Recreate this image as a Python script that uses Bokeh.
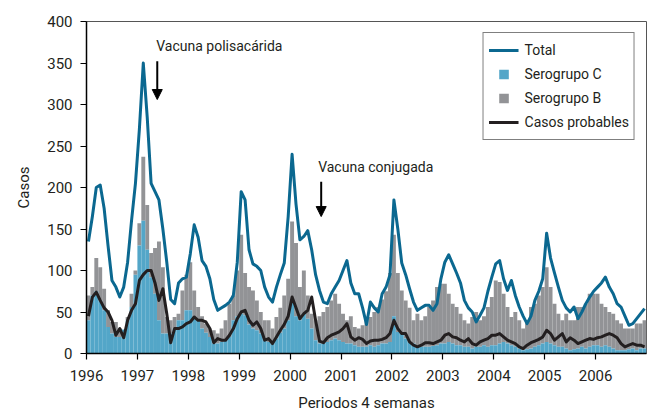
from bokeh.plotting import figure
from bokeh.models import (Range1d, FixedTicker, Legend, LegendItem, Arrow, NormalHead,
                          Label, ColumnDataSource)
from bokeh.embed import file_html
from bokeh.resources import INLINE

# ---- data (13 four-week periods per year, 1996-2006) ----
years = list(range(1996, 2007))
periods_per_year = 13

total = [
    135, 165, 200, 203, 175, 130, 88, 80, 68, 80, 110, 160, 205,      # 1996
    270, 350, 285, 205, 195, 185, 150, 110, 65, 60, 85, 90, 92,       # 1997
    120, 155, 140, 112, 105, 90, 65, 52, 55, 58, 62, 70, 110,         # 1998
    195, 185, 125, 108, 105, 100, 80, 68, 62, 80, 95, 109, 165,       # 1999
    240, 180, 137, 141, 148, 125, 95, 76, 62, 60, 72, 80, 88,         # 2000
    100, 112, 85, 72, 72, 55, 35, 62, 55, 50, 72, 80, 95,            # 2001
    185, 150, 109, 95, 78, 62, 52, 55, 58, 58, 52, 60, 90,           # 2002
    110, 119, 108, 97, 85, 64, 55, 50, 38, 46, 55, 75, 92,           # 2003
    108, 112, 90, 76, 88, 70, 56, 45, 36, 45, 64, 75, 90,            # 2004
    145, 115, 97, 80, 64, 55, 50, 56, 42, 50, 60, 68, 75,            # 2005
    80, 85, 92, 80, 72, 60, 56, 45, 34, 36, 42, 48, 54,              # 2006
]

probables = [
    45, 68, 74, 64, 55, 50, 40, 22, 30, 19, 40, 52, 60,
    88, 95, 100, 100, 85, 64, 78, 48, 13, 30, 30, 32, 36,
    38, 44, 40, 40, 38, 30, 13, 18, 16, 16, 22, 30, 42,
    50, 52, 40, 34, 38, 30, 16, 18, 12, 20, 28, 35, 45,
    68, 55, 42, 48, 52, 68, 40, 15, 13, 19, 22, 24, 26,
    30, 36, 20, 16, 19, 17, 12, 15, 16, 16, 17, 19, 24,
    40, 30, 24, 24, 14, 10, 8, 10, 13, 13, 12, 14, 16,
    22, 24, 20, 19, 16, 14, 18, 12, 10, 14, 16, 18, 22,
    22, 24, 20, 16, 14, 12, 8, 6, 10, 13, 15, 17, 20,
    28, 24, 16, 20, 24, 14, 19, 16, 12, 14, 16, 18, 17,
    19, 20, 22, 24, 22, 19, 12, 8, 10, 12, 10, 10, 8,
]

serogrupo_c = [
    40, 70, 75, 64, 52, 32, 24, 20, 20, 29, 40, 56, 95,
    130, 160, 125, 92, 72, 40, 24, 24, 24, 30, 40, 40, 52,
    52, 44, 40, 30, 25, 20, 12, 12, 14, 16, 20, 40, 45,
    48, 46, 35, 30, 28, 24, 16, 14, 14, 18, 25, 30, 40,
    62, 45, 40, 48, 42, 30, 16, 12, 12, 14, 16, 18, 16,
    14, 12, 12, 10, 8, 8, 8, 10, 8, 10, 12, 12, 14,
    45, 26, 24, 18, 14, 12, 10, 8, 8, 8, 9, 10, 12,
    12, 14, 12, 10, 10, 8, 8, 6, 8, 8, 10, 8, 10,
    10, 12, 14, 12, 10, 8, 6, 4, 5, 6, 8, 10, 12,
    14, 12, 10, 8, 8, 6, 4, 5, 6, 8, 6, 8, 10,
    10, 8, 10, 8, 6, 4, 4, 4, 5, 6, 4, 6, 6,
]

# top of the stacked bar (Serogrupo C + Serogrupo B)
c_plus_b = [
    70, 80, 115, 104, 78, 52, 38, 38, 30, 22, 44, 72, 100,
    157, 237, 179, 121, 127, 135, 104, 44, 40, 44, 48, 76, 95,
    110, 76, 56, 45, 36, 30, 28, 24, 30, 40, 60, 70, 100,
    143, 97, 80, 76, 64, 50, 40, 40, 30, 44, 55, 70, 90,
    159, 133, 80, 100, 70, 48, 40, 45, 50, 56, 64, 72, 60,
    48, 40, 45, 32, 30, 34, 40, 44, 50, 56, 65, 75, 97,
    143, 97, 76, 64, 55, 40, 48, 40, 45, 56, 64, 80, 84,
    84, 72, 60, 56, 48, 40, 36, 44, 50, 40, 45, 56, 68,
    88, 86, 72, 56, 44, 50, 40, 30, 40, 56, 60, 70, 80,
    104, 80, 60, 48, 40, 48, 40, 40, 56, 56, 60, 72, 72,
    72, 60, 56, 50, 48, 40, 36, 30, 30, 30, 36, 36, 40,
]
serogrupo_b = [max(t - c, 0) for t, c in zip(c_plus_b, serogrupo_c)]

year_ticks = years
y_ticks = list(range(0, 401, 50))

# ---- derived positions ----
n = len(total)
xs = [years[0] + (i + 0.5) / periods_per_year for i in range(n)]
bar_w = 1.0 / periods_per_year

src = ColumnDataSource(dict(
    x=xs, c=serogrupo_c, b=serogrupo_b, total=total, prob=probables,
    b_top=[c + b for c, b in zip(serogrupo_c, serogrupo_b)],
))

FONT = "Roboto"
C_TOTAL = "#0b6890"
C_C = "#53a6c8"
C_B = "#929396"
C_PROB = "#231f20"

p = figure(width=649, height=414, output_backend="svg", toolbar_location=None,
           x_range=Range1d(1996, 2007), y_range=Range1d(0, 400),
           min_border_left=86, min_border_right=3, min_border_top=21, min_border_bottom=61)

p.xgrid.visible = False
p.ygrid.visible = False
p.outline_line_color = "#555555"
p.outline_line_width = 1
p.background_fill_color = "white"
p.border_fill_color = "white"

rb = p.vbar(x="x", top="b_top", bottom="c", width=bar_w, source=src,
            fill_color=C_B, line_color=None)
rc = p.vbar(x="x", top="c", bottom=0, width=bar_w, source=src,
            fill_color=C_C, line_color=None)
rp = p.line(x="x", y="prob", source=src, line_color=C_PROB, line_width=3,
            line_join="round")
rt = p.line(x="x", y="total", source=src, line_color=C_TOTAL, line_width=3,
            line_join="round")

# legend proxies (placed outside the visible range)
LEGEND_PROXY = ([-100], [-100])
sq_c = p.scatter(x=LEGEND_PROXY[0], y=LEGEND_PROXY[1], marker="square",
                 fill_color=C_C, line_color=None, size=12)
sq_b = p.scatter(x=LEGEND_PROXY[0], y=LEGEND_PROXY[1], marker="square",
                 fill_color=C_B, line_color=None, size=12)

legend = Legend(items=[
    LegendItem(label="Total", renderers=[rt]),
    LegendItem(label="Serogrupo C", renderers=[sq_c]),
    LegendItem(label="Serogrupo B", renderers=[sq_b]),
    LegendItem(label="Casos probables", renderers=[rp]),
], location="top_right")
legend.border_line_color = "black"
legend.border_line_width = 1
legend.label_text_font = FONT
legend.label_text_font_size = "14px"
legend.label_text_color = "#231f20"
legend.glyph_width = 30
legend.glyph_height = 24
legend.label_height = 20
legend.spacing = 0
legend.label_standoff = 6
legend.padding = 5
legend.margin = 11
legend.background_fill_alpha = 1
p.add_layout(legend)

# axes
for ax in (p.xaxis[0], p.yaxis[0]):
    ax.major_label_text_font = FONT
    ax.major_label_text_font_size = "15px"
    ax.major_label_text_color = "#231f20"
    ax.axis_label_text_font = FONT
    ax.axis_label_text_font_size = "15px"
    ax.axis_label_text_font_style = "normal"
    ax.axis_label_text_color = "#231f20"
    ax.axis_line_color = "black"
    ax.axis_line_width = 1.5
    ax.major_tick_line_color = "black"
    ax.major_tick_line_width = 1.2
    ax.major_tick_out = 6
    ax.major_tick_in = 0
    ax.minor_tick_line_color = None

p.xaxis.ticker = FixedTicker(ticks=year_ticks)
p.yaxis.ticker = FixedTicker(ticks=y_ticks)
p.xaxis.axis_label = "Periodos 4 semanas"
p.yaxis.axis_label = "Casos"
p.xaxis.major_label_standoff = 10
p.xaxis.axis_label_standoff = 10
p.yaxis.major_label_standoff = 8
p.yaxis.axis_label_standoff = 11

# annotations
VAC_POLI_X, VAC_POLI_TEXT_Y, VAC_POLI_ARROW = 1997.37, 370, (1997.39, 352, 306)
VAC_CONJ_X, VAC_CONJ_TEXT_Y, VAC_CONJ_ARROW = 2000.55, 225, (2000.61, 207, 165)

for tx, ty, txt, (ax_, y0, y1) in [
        (VAC_POLI_X, VAC_POLI_TEXT_Y, "Vacuna polisacárida", VAC_POLI_ARROW),
        (VAC_CONJ_X, VAC_CONJ_TEXT_Y, "Vacuna conjugada", VAC_CONJ_ARROW)]:
    p.add_layout(Label(x=tx, y=ty, text=txt, text_font=FONT, text_font_size="14px",
                       text_color="#231f20", text_baseline="middle", text_align="left"))
    p.add_layout(Arrow(end=NormalHead(size=10, fill_color="black", line_color="black"),
                       x_start=ax_, y_start=y0, x_end=ax_, y_end=y1,
                       line_color="black", line_width=2))

open("out.html", "w").write(file_html(p, INLINE))
